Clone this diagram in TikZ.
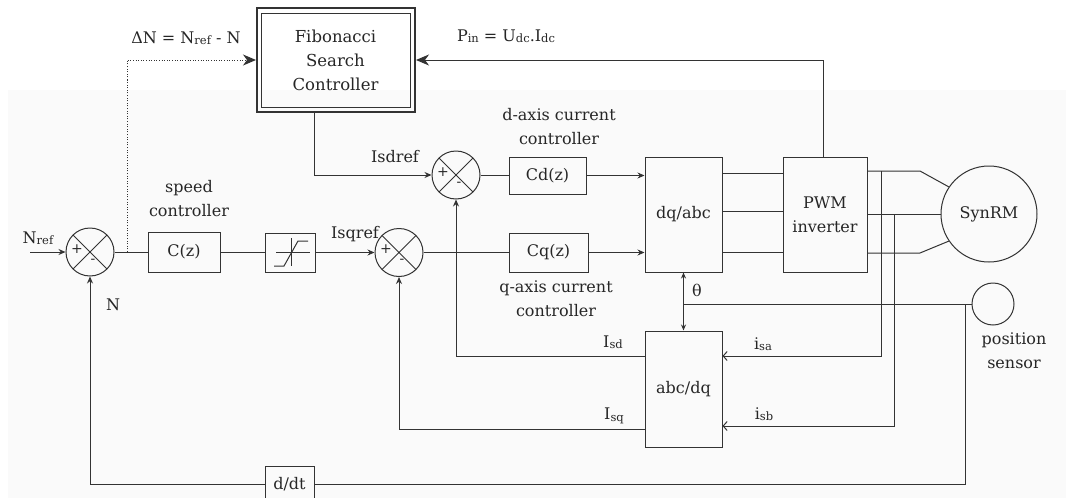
\documentclass[tikz,border=0pt]{standalone}
\usepackage{fontspec}
\setmainfont{DejaVu Serif}
\usetikzlibrary{arrows.meta,calc}
\newcommand\smallsub[1]{\raisebox{-1.5pt}{\fontsize{11.5}{11.5}\selectfont #1}}
\begin{document}
\begin{tikzpicture}[x=1pt,y=-1pt,
  line width=1pt, color=black!80,
  every node/.style={font=\fontsize{16}{24}\selectfont, text=black!85},
  blk/.style={draw=black!80, line width=1pt, inner sep=0pt},
  sumj/.style={draw=black!80, circle, minimum size=48pt, inner sep=0pt,
    path picture={\draw[black!80] (path picture bounding box.north west) -- (path picture bounding box.south east)
      (path picture bounding box.north east) -- (path picture bounding box.south west);}},
  sgn/.style={inner sep=0pt, font=\fontsize{14}{14}\selectfont},
  arr/.style={-{Stealth[length=7pt,width=6pt]}},
  barb/.style={-{Straight Barb[length=4pt,width=9pt]}},
  bigarr/.style={-{Stealth[length=13pt,width=11pt,inset=4pt]}},
  lbl/.style={inner sep=0pt},
  dotline/.style={dash pattern=on 1pt off 1.6pt}]
\useasboundingbox (0,0) rectangle (1066,498);
\fill[fill={rgb,255:red,250;green,250;blue,250}] (8,90) rectangle (1066,498);

% Fibonacci controller
\node[blk, line width=2pt, minimum width=158pt, minimum height=104pt] (fib) at (336,60) {};
\node[blk, minimum width=149pt, minimum height=94pt, align=center, font=\fontsize{16.5}{24}\selectfont] (fibin) at (335.5,60) {Fibonacci\\Search\\Controller};

% summing junctions
\node[sumj] (s1) at (90,252) {};
\node[sumj] (sq) at (399,252.5) {};
\node[sumj] (sd) at (456,175) {};
\foreach \s in {s1,sq,sd}{
  \node[sgn] (\s p) at ($(\s)+(-13,-3)$) {+};
  \node[sgn] (\s m) at ($(\s)+(3,9)$) {-};
}

% blocks
\node[blk, minimum width=72pt, minimum height=40pt] (cz) at (184,252) {C(z)};
\node[blk, minimum width=50pt, minimum height=39pt] (sat) at (290,252.5) {};
\node[blk, minimum width=77pt, minimum height=37pt] (cd) at (547.5,175.5) {Cd(z)};
\node[blk, minimum width=79pt, minimum height=39pt] (cq) at (548.5,252.5) {Cq(z)};
\node[blk, minimum width=77pt, minimum height=115pt] (dqabc) at (683.5,214.5) {dq/abc};
\node[blk, minimum width=84pt, minimum height=115pt, align=center] (pwm) at (825,214.5) {PWM\\inverter};
\node[blk, minimum width=77pt, minimum height=116pt] (abcdq) at (683.5,389) {abc/dq};
\node[blk, circle, minimum size=96pt] (motor) at (989,214) {SynRM};
\node[blk, circle, minimum size=42pt] (sensor) at (993,304) {};
\node[blk, minimum width=49pt, minimum height=36pt] (ddt) at (289.5,484) {d/dt};

% saturation symbol
\draw (276,252.5) -- (310,252.5);
\draw (291,238) -- (291,266);
\draw (274,266) -- (284,266) -- (298,241) -- (308,241);

% labels
\node[lbl] (lnref) at (38,238) {N\smallsub{ref}};
\node[lbl] (ln) at (113,305) {N};
\node[lbl, align=center] (lspeed) at (189,198.5) {speed\\controller};
\node[lbl] (lisqref) at (355,234) {Isqref};
\node[lbl] (lisdref) at (395,157) {Isdref};
\node[lbl, align=center] (ldax) at (559,127) {d-axis current\\controller};
\node[lbl, align=center] (lqax) at (556,299) {q-axis current\\controller};
\node[lbl] (ldn) at (186,38) {ΔN = N\smallsub{ref} - N};
\node[lbl] (lpin) at (506,36) {P\smallsub{in} = U\smallsub{dc}.I\smallsub{dc}};
\node[lbl] (lth) at (697,290) {θ};
\node[lbl] (lisd) at (613,342) {I\smallsub{sd}};
\node[lbl] (lisq) at (614,416) {I\smallsub{sq}};
\node[lbl] (lisa) at (763,344) {i\smallsub{sa}};
\node[lbl] (lisb) at (764,414) {i\smallsub{sb}};
\node[lbl, align=center] (lpos) at (1014,351) {position\\sensor};

% coordinates
\coordinate (nin) at (30,252);
\coordinate (dj) at (127,252);
\coordinate (fo) at ($(fib.south west)+(58,0)$);
\coordinate (pt) at (823,157);
\coordinate (ja) at (881,171);
\coordinate (jb) at (894,214);
\coordinate (sj) at (965,304);
\coordinate (mt) at (920,171);
\coordinate (mb) at (920,253);

% speed loop
\draw[arr] (nin) -- (s1.west);
\draw (s1.east) -- (s1.east -| cz.west);
\draw[dotline] (dj) -- (127,80);
\draw[dotline, bigarr] (127,80) |- (fib.west);
\draw (cz.east) -- (cz.east -| sat.west);
\draw[arr] (sat.east) -- (sq.west);
\draw (sq.east) -- (cq.west);
\draw[arr] (cq.east) -- (cq.east -| dqabc.west);
\draw[arr] (fo) |- (sd.west);
\draw (sd.east) -- (sd.east -| cd.west);
\draw[arr] (cd.east) -- (cd.east -| dqabc.west);
\foreach \yy in {173,211,252}
  \draw (dqabc.east |- 0,\yy) -- (pwm.west |- 0,\yy);
\draw[bigarr] (pt) |- (fib.east);

% inverter to motor
\draw (pwm.east |- mt) -- (mt) -- (motor.146);
\draw (pwm.east |- motor.west) -- (motor.west);
\draw (pwm.east |- mb) -- (mb) -- (motor.214);

% current measurements
\draw[barb] (ja) |- (abcdq.east |- 0,356);
\draw[barb] (jb) |- (abcdq.east |- 0,426);
\draw[arr] (abcdq.west |- 0,356) -| (sd.south);
\draw[arr] (abcdq.west |- 0,429) -| (sq.south);

% position
\draw[{Stealth[length=6pt,width=5pt]}-{Stealth[length=6pt,width=5pt]}] (dqabc.south) -- (abcdq.north);
\draw (sensor.west -| dqabc.south) -- (sensor.west);
\draw (sj) |- (ddt.east);
\draw[arr] (ddt.west) -| (s1.south);
\end{tikzpicture}
\end{document}
